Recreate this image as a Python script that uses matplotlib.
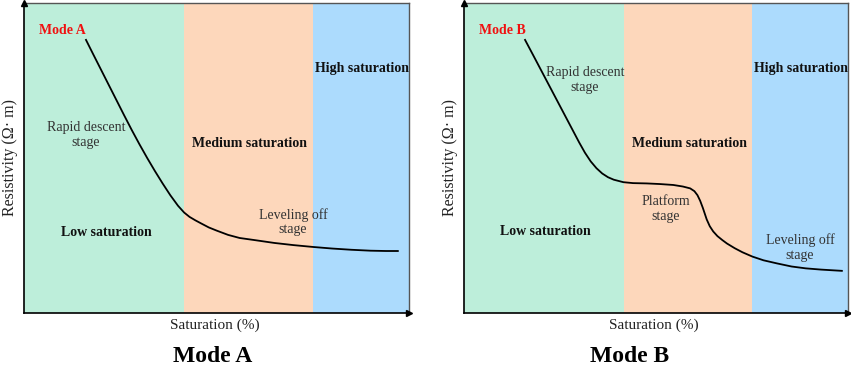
import matplotlib
matplotlib.use("Agg")
import matplotlib.pyplot as plt

plt.rcParams['font.family'] = ['Liberation Serif', 'DejaVu Serif']

# Saturation zone boundaries (% of axis)
zone_edges = [0, 41.6, 75.1, 100]
zone_colors = ['#bdeeda', '#fdd7bb', '#acdbfd']
zone_names = ['Low saturation', 'Medium saturation', 'High saturation']

# Mode A curve
a_x = [16.1, 18.0, 20.0, 22.0, 24.0, 26.0, 28.0, 30.0, 32.0, 34.0, 36.0, 38.0, 40.0, 41.6, 43.0,
       44.5, 46.0, 48.0, 50.0, 53.0, 56.0, 60.0, 65.0, 70.0, 75.1, 80.0, 85.0, 90.0, 94.0, 97.1]
a_y = [88.1, 83.4, 78.5, 73.6, 68.7, 63.8, 59.0, 54.4, 50.0, 45.8, 41.8, 38.0, 34.6, 32.4, 31.0,
       29.9, 28.9, 27.6, 26.6, 25.2, 24.2, 23.5, 22.6, 21.9, 21.3, 20.8, 20.4, 20.1, 20.0, 20.0]

# Mode B curve
b_x = [15.9, 18.0, 20.0, 22.0, 24.0, 26.0, 28.0, 30.0, 31.5, 33.0, 34.5, 36.0, 37.5, 39.0, 41.5,
       44.0, 47.6, 51.0, 54.5, 57.0, 58.9, 60.0, 60.8, 61.5, 62.2, 63.2, 64.0, 64.9, 66.0, 67.3,
       68.5, 70.5, 72.5, 75.1, 78.0, 81.5, 85.3, 89.0, 93.0, 98.4]
b_y = [88.1, 83.2, 78.5, 73.8, 69.1, 64.4, 59.7, 55.0, 51.7, 48.9, 46.7, 45.0, 43.8, 43.0, 42.2,
       41.9, 41.8, 41.6, 41.3, 40.8, 40.2, 39.3, 38.0, 36.2, 33.9, 30.2, 28.0, 26.3, 24.8, 23.5,
       22.4, 20.9, 19.6, 18.2, 17.0, 16.0, 15.0, 14.4, 14.0, 13.6]

fig = plt.figure(figsize=(8.51, 3.65), dpi=100)
W, H = 851, 365

def px_axes(l, t, r, b):
    return fig.add_axes([l / W, (H - b) / H, (r - l) / W, (b - t) / H])

panels = [
    dict(box=(24, 3, 409, 313), x=a_x, y=a_y, mode='Mode A',
         stage_texts=[('Rapid descent\nstage', 16.1, 57.4), ('Leveling off\nstage', 69.9, 29.4)],
         zone_pos=[(21.3, 26.1), (58.7, 54.8), (87.8, 79.0)],
         xlabel=(215, 325), ylabel=(10, 157), title=(213, 356)),
    dict(box=(464, 3, 848, 313), x=b_x, y=b_y, mode='Mode B',
         stage_texts=[('Rapid descent\nstage', 31.5, 75.2), ('Platform\nstage', 52.5, 33.5),
                      ('Leveling off\nstage', 87.5, 21.1)],
         zone_pos=[(21.1, 26.2), (58.7, 54.7), (87.8, 78.9)],
         xlabel=(654, 325), ylabel=(450, 157), title=(630, 356)),
]

for p in panels:
    ax = px_axes(*p['box'])
    ax.set_xlim(0, 100)
    ax.set_ylim(0, 100)
    for i in range(3):
        ax.axvspan(zone_edges[i], zone_edges[i + 1], color=zone_colors[i], lw=0, zorder=0)
    ax.plot(p['x'], p['y'], color='black', lw=1.3, zorder=3, solid_joinstyle='round')
    for name, (zx, zy) in zip(zone_names, p['zone_pos']):
        ax.text(zx, zy, name, ha='center', va='center', fontsize=10, fontweight='bold',
                color='#111111', zorder=4)
    for txt, tx, ty in p['stage_texts']:
        ax.text(tx, ty, txt, ha='center', va='center', fontsize=10, color='#333333',
                linespacing=1.15, zorder=4)
    ax.text(9.9, 91.0, p['mode'], ha='center', va='center', fontsize=10, fontweight='bold',
            color='#f01010', zorder=4)
    ax.set_xticks([])
    ax.set_yticks([])
    for s in ['top', 'right']:
        ax.spines[s].set_color('#555555')
        ax.spines[s].set_linewidth(1.0)
    for s in ['left', 'bottom']:
        ax.spines[s].set_color('black')
        ax.spines[s].set_linewidth(1.2)
    ax.plot(1.0, 0, marker='>', color='black', ms=4, transform=ax.transAxes, clip_on=False, zorder=5)
    ax.plot(0, 1.0, marker='^', color='black', ms=4, transform=ax.transAxes, clip_on=False, zorder=5)
    fig.text(p['xlabel'][0] / W, (H - p['xlabel'][1]) / H, 'Saturation (%)', ha='center',
             va='center', fontsize=11, color='#222222')
    fig.text(p['ylabel'][0] / W, (H - p['ylabel'][1]) / H, 'Resistivity (Ω· m)', ha='center',
             va='center', fontsize=11.5, rotation=90, color='#222222')
    fig.text(p['title'][0] / W, (H - p['title'][1]) / H, p['mode'], ha='center', va='center',
             fontsize=17, fontweight='bold', color='black')

fig.savefig('out.png', dpi=100)
